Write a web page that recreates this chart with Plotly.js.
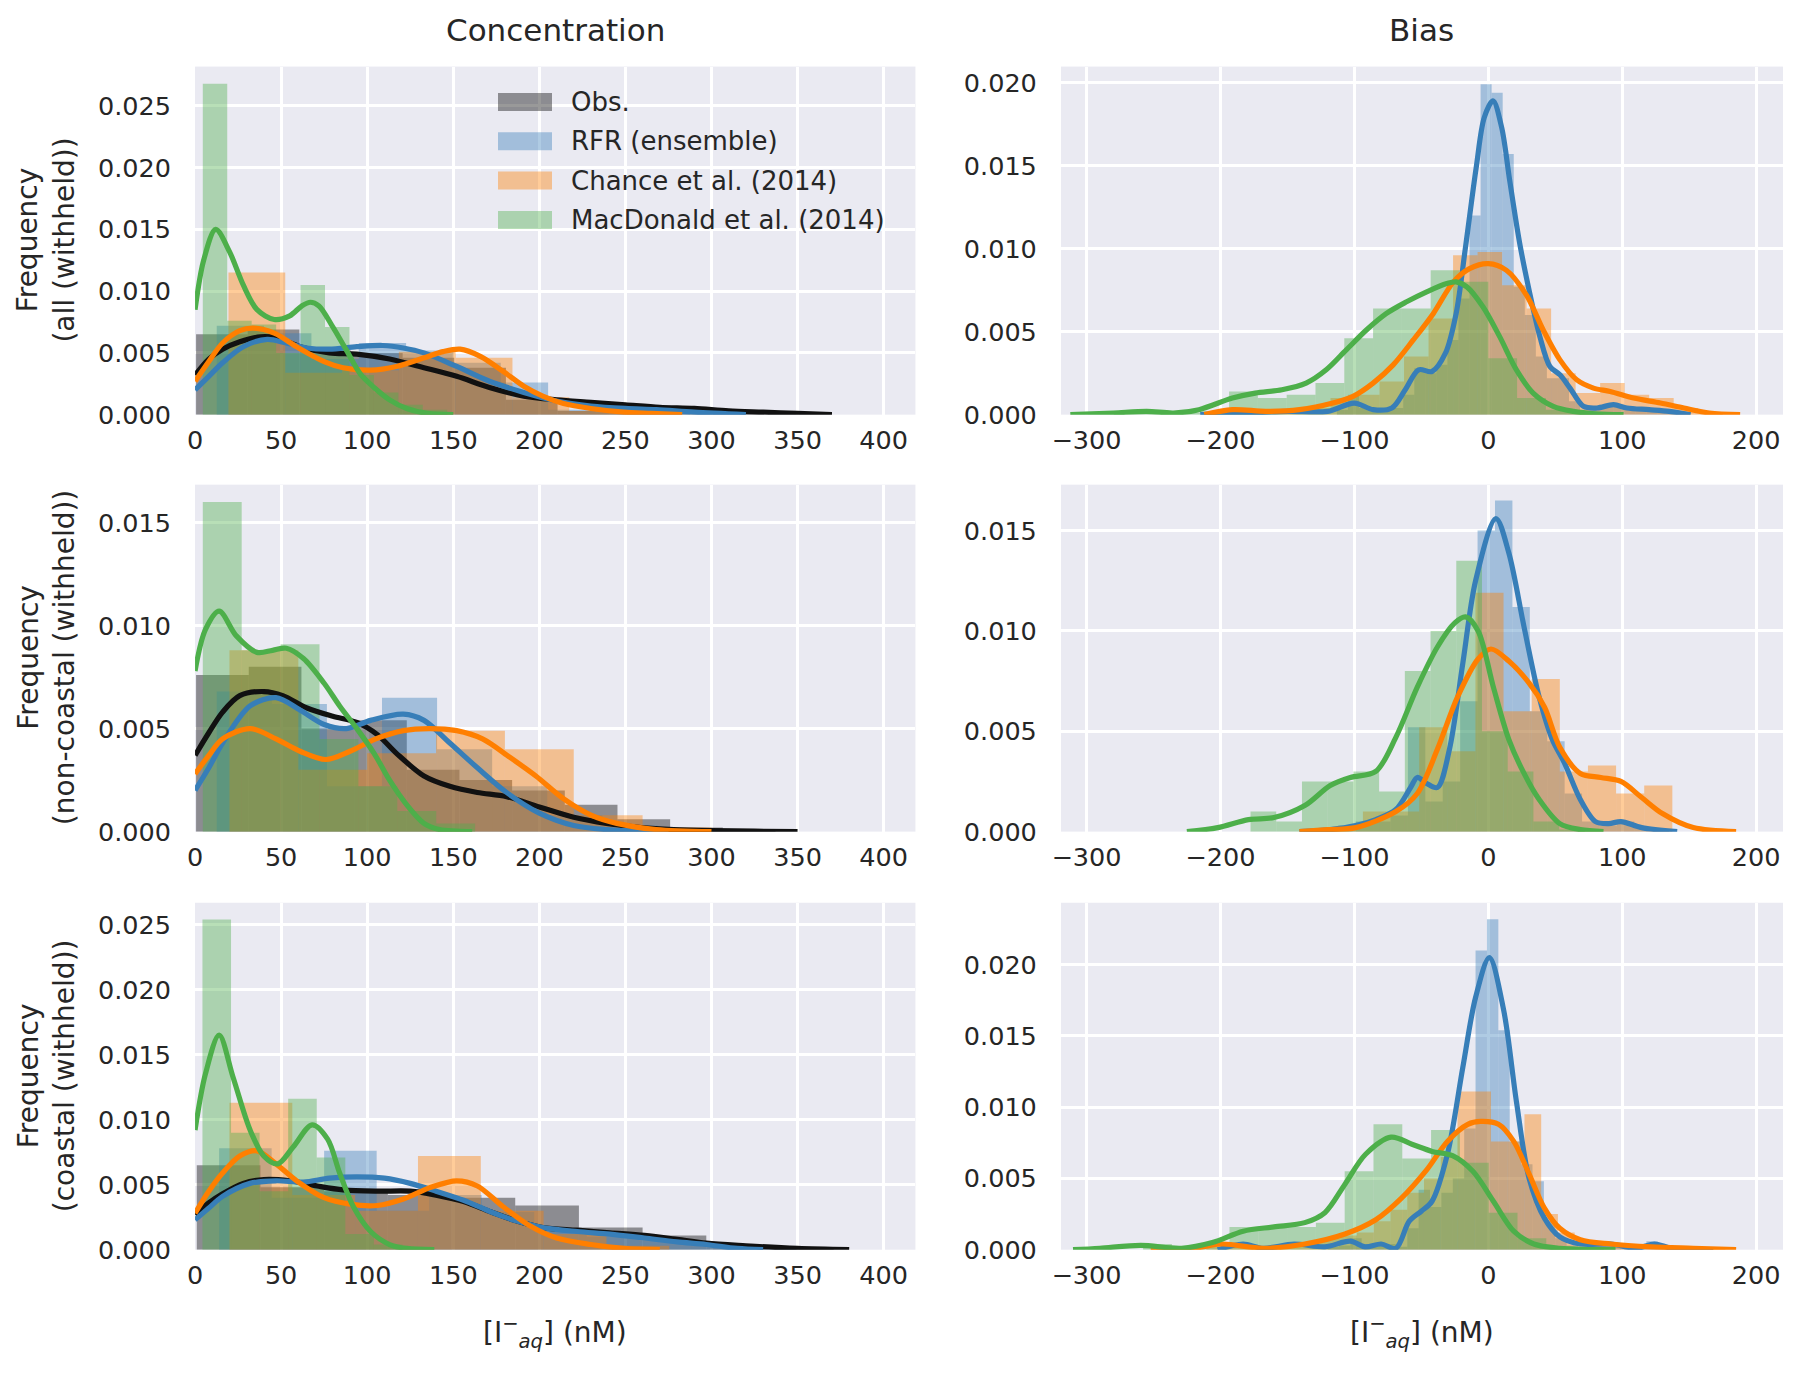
<!DOCTYPE html>
<html>
<head>
<meta charset="utf-8">
<script src="https://cdn.plot.ly/plotly-3.0.1.min.js"></script>
<style>html,body{margin:0;padding:0;background:#fff;}#chart{width:1801px;height:1373px;}</style>
</head>
<body>
<div id="chart"></div>
<script>
// ---------------- DATA ----------------
const seriesNames = ["Obs.", "RFR (ensemble)", "Chance et al. (2014)", "MacDonald et al. (2014)"];
const columnTitles = ["Concentration", "Bias"];
const rowLabels = ["Frequency<br>(all (withheld))", "Frequency<br>(non-coastal (withheld))", "Frequency<br>(coastal (withheld))"];
const xAxisLabel = "[I<sup>−</sup><sub><i>aq</i></sub>] (nM)";
const concTicks = [0, 50, 100, 150, 200, 250, 300, 350, 400];
const biasTicks = [-300, -200, -100, 0, 100, 200];

// ---- Concentration, all (withheld): histogram bins (start, width, densities) ----
const concAllObsBins = {start: 0.6, width: 30, h: [0.0065,0.0069,0.0052,0.0050,0.0046,0.0038,0.0012,0.0003,0.0002,0.0001,0.0001]};
const concAllRfrBins = {start: 12.6, width: 27.5, h: [0.0072,0.0066,0.0045,0.0058,0.0052,0.0042,0.0026,0.0004,0.0002,0.0001]};
const concAllChanceBins = {start: 19.4, width: 33, h: [0.0115,0.0034,0.0036,0.0051,0.0046,0.0014,0.0003]};
const concAllMacBins = {start: 4.5, width: 14.2, h: [0.0268,0.0076,0.0073,0.0050,0.0105,0.0071,0.0032,0.0018,0.0008,0.0004]};
// KDE curves
const concAllObsKdeX = [0,8,16,26,38,48,61,78,94,113,133,152,171,191,210,230,250,270,290,310,330,350,370];
const concAllObsKdeY = [0.0032,0.0045,0.0053,0.0059,0.0063,0.0062,0.0055,0.0050,0.0049,0.0045,0.0038,0.0031,0.0022,0.0015,0.0012,0.0010,0.0008,0.0006,0.0005,0.0003,0.0002,0.0001,0.0];
const concAllRfrKdeX = [0,8,16,28,42,53,65,78,94,109,121,133,152,171,191,210,230,250,268,290,320];
const concAllRfrKdeY = [0.0020,0.0031,0.0042,0.0055,0.0061,0.0058,0.0054,0.0053,0.0055,0.0056,0.0054,0.0050,0.0039,0.0027,0.0018,0.0011,0.0007,0.0005,0.0004,0.0002,0.0];
const concAllChanceKdeX = [0,8,16,26,34,46,59,75,86,102,117,133,144,154,166,179,191,202,214,230,249,265,283];
const concAllChanceKdeY = [0.0027,0.0043,0.0058,0.0068,0.0070,0.0066,0.0055,0.0043,0.0038,0.0036,0.0039,0.0046,0.0051,0.0053,0.0047,0.0035,0.0023,0.0015,0.0009,0.0005,0.0002,0.0001,0.0];
const concAllMacKdeX = [0,5,12,20,28,36,46,55,62,67,72,80,88,96,104,113,123,135,150];
const concAllMacKdeY = [0.0085,0.0125,0.0150,0.0132,0.0105,0.0085,0.0077,0.0080,0.0088,0.0091,0.0088,0.0071,0.0052,0.0033,0.0022,0.0012,0.0005,0.0001,0.0];

// ---- Concentration, non-coastal ----
const concNonObsBins = {start: 0.6, width: 30.6, h: [0.0076,0.0080,0.0050,0.0054,0.0030,0.0025,0.0020,0.0013,0.0006,0.0002,0.0001]};
const concNonRfrBins = {start: 12.6, width: 32, h: [0.0068,0.0062,0.0022,0.0065,0.0040,0.0022,0.0008,0.0003]};
const concNonChanceBins = {start: 20, width: 40, h: [0.0088,0.0030,0.0038,0.0049,0.0040,0.0008,0.0002]};
const concNonMacBins = {start: 4.5, width: 22.6, h: [0.0160,0.0088,0.0091,0.0045,0.0022,0.0010,0.0004]};
const concNonObsKdeX = [0,8,16,26,40,51,65,80,94,106,117,133,148,164,181,200,220,239,259,278,300,325,350];
const concNonObsKdeY = [0.0037,0.0048,0.0058,0.0066,0.0068,0.0066,0.0060,0.0056,0.0053,0.0047,0.0038,0.0027,0.0022,0.0019,0.0017,0.0012,0.0007,0.0004,0.0002,0.0001,0.00005,0.00002,0];
const concNonRfrKdeX = [0,8,16,32,47,61,75,88,102,121,133,148,164,181,200,220,239,258,275];
const concNonRfrKdeY = [0.0020,0.0031,0.0043,0.0061,0.0065,0.0059,0.0052,0.0050,0.0054,0.0057,0.0054,0.0043,0.0031,0.0019,0.0009,0.0003,0.0001,0.00003,0];
const concNonChanceKdeX = [0,8,16,32,47,61,76,90,105,121,136,152,167,183,198,214,230,245,268,300];
const concNonChanceKdeY = [0.0028,0.0037,0.0045,0.0050,0.0045,0.0039,0.0035,0.0039,0.0045,0.0049,0.0050,0.0049,0.0045,0.0036,0.0027,0.0016,0.0008,0.0004,0.0001,0];
const concNonMacKdeX = [0,6,14,24,36,45,53,63,75,84,94,104,113,123,133,142,161];
const concNonMacKdeY = [0.0078,0.0098,0.0107,0.0095,0.0087,0.0088,0.0089,0.0084,0.0072,0.0061,0.0050,0.0038,0.0025,0.0013,0.0004,0.0001,0];

// ---- Concentration, coastal ----
const concCoastObsBins = {start: 1, width: 37, h: [0.0065,0.0048,0.0045,0.0042,0.0040,0.0034,0.0017,0.0011,0.0003,0.0001]};
const concCoastRfrBins = {start: 14, width: 30.5, h: [0.0078,0.0040,0.0076,0.0030,0.0042,0.0029,0.0015,0.0010,0.0007,0.0004,0.0002]};
const concCoastChanceBins = {start: 20, width: 36.5, h: [0.0113,0.0042,0.0030,0.0072,0.0030,0.0012,0.0003]};
const concCoastMacBins = {start: 4.3, width: 16.6, h: [0.0254,0.0090,0.0045,0.0116,0.0071,0.0012,0.0004]};
const concCoastObsKdeX = [0,8,16,28,40,55,71,86,106,125,140,156,172,187,202,222,241,261,280,297,320,350,380];
const concCoastObsKdeY = [0.0027,0.0036,0.0043,0.0051,0.0054,0.0053,0.0049,0.0046,0.0045,0.0045,0.0042,0.0037,0.0029,0.0022,0.0017,0.0015,0.0013,0.0011,0.0008,0.0005,0.0003,0.0001,0];
const concCoastRfrKdeX = [0,8,16,32,47,63,78,94,110,125,140,156,172,187,202,222,241,261,280,297,315,330];
const concCoastRfrKdeY = [0.0023,0.0032,0.0041,0.0051,0.0053,0.0052,0.0055,0.0056,0.0055,0.0051,0.0045,0.0038,0.0029,0.0022,0.0017,0.0014,0.0012,0.0009,0.0006,0.0004,0.0001,0];
const concCoastChanceKdeX = [0,8,16,26,36,47,59,75,90,106,121,137,152,164,179,195,210,230,249,270];
const concCoastChanceKdeY = [0.0028,0.0045,0.0059,0.0072,0.0076,0.0066,0.0053,0.0040,0.0035,0.0034,0.0039,0.0048,0.0053,0.0049,0.0033,0.0018,0.0009,0.0004,0.0001,0];
const concCoastMacKdeX = [0,6,14,22,32,40,48,57,68,77,84,92,102,113,123,139];
const concCoastMacKdeY = [0.0092,0.0135,0.0165,0.0133,0.0092,0.0072,0.0066,0.0079,0.0096,0.0085,0.0059,0.0033,0.0014,0.0004,0.0001,0];

// ---- Bias, all (withheld) ----
const biasAllRfrBins = {start: -113, width: 8.25, h: [0.0003,0.0012,0.0004,0.0002,0.0003,0.0004,0.0012,0.0028,0.0025,0.0030,0.0045,0.0070,0.0120,0.0199,0.0194,0.0157,0.0077,0.0060,0.0035,0.0022,0.0022,0.0008,0.0003,0.0003,0.0005,0.0006,0.0003,0.0003,0.0003,0.0003,0.0002,0.0001]};
const biasAllChanceBins = {start: -209.3, width: 18.3, h: [0.0002,0.0003,0.0002,0.0002,0.0004,0.0010,0.0012,0.0020,0.0035,0.0058,0.0096,0.0098,0.0078,0.0064,0.0025,0.0013,0.0019,0.0012,0.0010,0.0004,0.0001]};
const biasAllMacBins = {start: -279.5, width: 21.5, h: [0.0001,0.0002,0.0001,0.0002,0.0014,0.0010,0.0012,0.0019,0.0046,0.0064,0.0064,0.0087,0.0080,0.0034,0.0010,0.0003,0.0001]};
const biasAllRfrKdeX = [-215,-180,-150,-120,-100,-86,-72,-62,-52,-42,-32,-24,-17,-9,-3,3.5,10,16,23.5,31,38.5,46,53.5,61,71,81,93.5,103.5,120,135,151];
const biasAllRfrKdeY = [0,0.0001,0.0002,0.0002,0.0007,0.0003,0.0004,0.0015,0.0027,0.0026,0.0037,0.0061,0.0101,0.0149,0.0179,0.0189,0.0173,0.0141,0.0103,0.0073,0.0047,0.0029,0.0024,0.0016,0.0005,0.0004,0.0006,0.0004,0.0003,0.0002,0];
const biasAllChanceKdeX = [-212,-191,-166,-141,-116,-101,-86,-71,-56,-41,-26,-14,0,13.5,28.5,41,53.5,66,78.5,91,108.5,128.5,146,165,188];
const biasAllChanceKdeY = [0,0.0003,0.0002,0.0003,0.0007,0.0011,0.0019,0.0030,0.0045,0.0061,0.0080,0.0088,0.0091,0.0087,0.0072,0.0051,0.0033,0.0021,0.0016,0.0014,0.0010,0.0007,0.0004,0.0001,0];
const biasAllMacKdeX = [-312,-280,-255,-235,-216,-191,-174,-154,-136,-121,-106,-91,-76,-61,-46,-31,-24,-16,-4,8.5,21,33.5,48.5,63.5,80,101];
const biasAllMacKdeY = [0,0.0001,0.0002,0.0001,0.0003,0.0010,0.0013,0.0015,0.0019,0.0027,0.0039,0.0051,0.0061,0.0068,0.0074,0.0079,0.0080,0.0077,0.0065,0.0047,0.0027,0.0013,0.0005,0.0002,0.00005,0];

// ---- Bias, non-coastal ----
const biasNonRfrBins = {start: -138, width: 13, h: [0.0001,0.0001,0.0003,0.0005,0.0005,0.0008,0.0052,0.0015,0.0025,0.0065,0.0150,0.0165,0.0112,0.0060,0.0045,0.0019,0.0005,0.0003,0.0005,0.0002,0.0001]};
const biasNonChanceBins = {start: -135.6, width: 21, h: [0.0001,0.0002,0.0010,0.0010,0.0052,0.0040,0.0119,0.0060,0.0076,0.0030,0.0033,0.0019,0.0023]};
const biasNonMacBins = {start: -177.5, width: 19.2, h: [0.0010,0.0005,0.0025,0.0025,0.0030,0.0020,0.0080,0.0100,0.0135,0.0050,0.0030,0.0005,0.0001]};
const biasNonRfrKdeX = [-141,-118,-99,-84,-69,-58,-53,-46,-38,-29,-19,-9.5,5.7,15.3,26.7,38,47.7,57,68.7,80,90,99,114.5,141];
const biasNonRfrKdeY = [0,0.0001,0.0003,0.0006,0.0011,0.0022,0.0027,0.0024,0.0022,0.0041,0.0084,0.0125,0.0156,0.0139,0.0102,0.0067,0.0046,0.0034,0.0016,0.0005,0.0004,0.0005,0.0002,0];
const biasNonChanceKdeX = [-141,-120,-99,-69,-53,-38,-23,-7.6,2,15.3,30.5,42,53.4,68.7,84,99,114.5,130,153,185];
const biasNonChanceKdeY = [0,0.0001,0.0002,0.0010,0.0019,0.0041,0.0067,0.0086,0.0091,0.0085,0.0074,0.0062,0.0042,0.0029,0.0027,0.0025,0.0017,0.0009,0.0002,0];
const biasNonMacKdeX = [-225,-202,-179,-160,-137,-118,-103,-84,-69,-53,-38,-25,-17,-7.6,3.8,15.3,26.7,38,53.4,68.7,86];
const biasNonMacKdeY = [0,0.0002,0.0006,0.0007,0.0013,0.0023,0.0027,0.0030,0.0047,0.0072,0.0092,0.0104,0.0107,0.0100,0.0072,0.0046,0.0029,0.0016,0.0004,0.0001,0];

// ---- Bias, coastal ----
const biasCoastRfrBins = {start: -120, width: 8.5, h: [0.0002,0.0003,0.0008,0.0004,0.0003,0.0004,0.0002,0.0015,0.0042,0.0030,0.0040,0.0050,0.0085,0.0210,0.0232,0.0154,0.0076,0.0060,0.0048,0.0020,0.0008,0.0003,0.0002,0.0003,0.0003,0.0003,0.0001,0.0001,0.0006,0.0002]};
const biasCoastChanceBins = {start: -210.5, width: 12.5, h: [0.0002,0.0003,0.0002,0.0001,0.0002,0.0003,0.0005,0.0008,0.0010,0.0012,0.0020,0.0028,0.0040,0.0050,0.0065,0.0111,0.0111,0.0076,0.0076,0.0095,0.0025,0.0012,0.0006,0.0004,0.0003,0.0002,0.0002,0.0002,0.0001,0.0001,0.0001]};
const biasCoastMacBins = {start: -257.7, width: 21.5, h: [0.0004,0.0001,0.0002,0.0016,0.0016,0.0016,0.0019,0.0055,0.0088,0.0064,0.0084,0.0061,0.0026,0.0008,0.0002,0.0001]};
const biasCoastRfrKdeX = [-202,-183,-168,-145,-122,-103,-92,-80,-69,-59,-50,-42,-30.5,-19,-9.5,0.8,11.5,21,30.5,42,53.4,68.7,91.6,110.7,124,137,168];
const biasCoastRfrKdeY = [0,0.0004,0.0001,0.0004,0.0002,0.0006,0.0002,0.0004,0.0001,0.0020,0.0027,0.0034,0.0067,0.0128,0.0177,0.0205,0.0168,0.0104,0.0050,0.0022,0.0009,0.0004,0.0004,0.0001,0.0004,0.0001,0];
const biasCoastChanceKdeX = [-252,-220,-198.5,-168,-137,-107,-84,-65,-46,-30.5,-15.3,-5.7,7.6,19,30.5,42,53.4,68.7,91.6,122,153,185];
const biasCoastChanceKdeY = [0,0.0001,0.0004,0.0001,0.0004,0.0011,0.0021,0.0036,0.0056,0.0076,0.0088,0.0090,0.0088,0.0076,0.0053,0.0029,0.0015,0.0007,0.0004,0.0002,0.0001,0];
const biasCoastMacKdeX = [-310,-290,-259.5,-229,-206,-183,-160,-137,-122,-107,-91.6,-72.5,-57,-42,-26.7,-11.5,3.8,19,34,53.4,95];
const biasCoastMacKdeY = [0,0.0001,0.0003,0.0001,0.0005,0.0013,0.0016,0.0019,0.0026,0.0046,0.0067,0.0079,0.0074,0.0069,0.0066,0.0055,0.0034,0.0013,0.0004,0.0001,0];

// ---------------- STYLE ----------------
const FONT = "DejaVu Sans, Liberation Sans, sans-serif";
const TXT = "#262626";
const lineColors = ["#111111", "#377eb8", "#ff7f00", "#4daf4a"];
const barColors = ["rgba(0,0,0,0.4)", "rgba(55,126,184,0.4)", "rgba(255,127,0,0.4)", "rgba(77,175,74,0.4)"];

function hist(b, si, ax) {
  return {
    type: "bar", x: b.h.map((_, i) => b.start + b.width * (i + 0.5)), y: b.h, width: b.width,
    marker: {color: barColors[si], line: {width: 0}}, xaxis: ax[0], yaxis: ax[1],
    name: seriesNames[si], showlegend: false, hoverinfo: "skip"
  };
}
function kde(x, y, si, ax) {
  return {
    type: "scatter", mode: "lines", x: x, y: y, xaxis: ax[0], yaxis: ax[1],
    line: {color: lineColors[si], width: 5.2, shape: "spline", smoothing: 0.9},
    name: seriesNames[si], showlegend: false, hoverinfo: "skip", cliponaxis: true
  };
}

const panels = [
  {ax: ["x", "y"], bins: [concAllObsBins, concAllRfrBins, concAllChanceBins, concAllMacBins],
   kdes: [[concAllObsKdeX, concAllObsKdeY], [concAllRfrKdeX, concAllRfrKdeY], [concAllChanceKdeX, concAllChanceKdeY], [concAllMacKdeX, concAllMacKdeY]]},
  {ax: ["x2", "y2"], bins: [null, biasAllRfrBins, biasAllChanceBins, biasAllMacBins],
   kdes: [null, [biasAllRfrKdeX, biasAllRfrKdeY], [biasAllChanceKdeX, biasAllChanceKdeY], [biasAllMacKdeX, biasAllMacKdeY]]},
  {ax: ["x3", "y3"], bins: [concNonObsBins, concNonRfrBins, concNonChanceBins, concNonMacBins],
   kdes: [[concNonObsKdeX, concNonObsKdeY], [concNonRfrKdeX, concNonRfrKdeY], [concNonChanceKdeX, concNonChanceKdeY], [concNonMacKdeX, concNonMacKdeY]]},
  {ax: ["x4", "y4"], bins: [null, biasNonRfrBins, biasNonChanceBins, biasNonMacBins],
   kdes: [null, [biasNonRfrKdeX, biasNonRfrKdeY], [biasNonChanceKdeX, biasNonChanceKdeY], [biasNonMacKdeX, biasNonMacKdeY]]},
  {ax: ["x5", "y5"], bins: [concCoastObsBins, concCoastRfrBins, concCoastChanceBins, concCoastMacBins],
   kdes: [[concCoastObsKdeX, concCoastObsKdeY], [concCoastRfrKdeX, concCoastRfrKdeY], [concCoastChanceKdeX, concCoastChanceKdeY], [concCoastMacKdeX, concCoastMacKdeY]]},
  {ax: ["x6", "y6"], bins: [null, biasCoastRfrBins, biasCoastChanceBins, biasCoastMacBins],
   kdes: [null, [biasCoastRfrKdeX, biasCoastRfrKdeY], [biasCoastChanceKdeX, biasCoastChanceKdeY], [biasCoastMacKdeX, biasCoastMacKdeY]]}
];

const traces = [];
panels.forEach(p => {
  for (let si = 0; si < 4; si++) {
    if (p.bins[si]) traces.push(hist(p.bins[si], si, p.ax));
    if (p.kdes[si]) traces.push(kde(p.kdes[si][0], p.kdes[si][1], si, p.ax));
  }
});

// ---------------- LAYOUT ----------------
const W = 1801, H = 1373;
const colDom = [[0.1083, 0.5083], [0.5891, 0.9900]];
const rowDom = [[0.6980, 0.9515], [0.3943, 0.6470], [0.0898, 0.3425]];
const yMax = [[0.02818, 0.02097], [0.01684, 0.01729], [0.02668, 0.02435]];

function xAxis(col, row, anchor) {
  const conc = col === 0;
  return {
    domain: colDom[col], anchor: anchor, range: conc ? [0, 418.5] : [-319, 220],
    tickvals: conc ? concTicks : biasTicks, ticks: "outside", ticklen: 3, tickcolor: "rgba(0,0,0,0)",
    showgrid: true, gridcolor: "#ffffff", gridwidth: 3, zeroline: false, showline: false,
    tickfont: {family: FONT, size: 25.5, color: TXT}
  };
}
function yAxis(col, row, anchor) {
  return {
    domain: rowDom[row], anchor: anchor, range: [0, yMax[row][col]], dtick: 0.005, tick0: 0,
    tickformat: ".3f", ticks: "outside", ticklen: 18, tickcolor: "rgba(0,0,0,0)",
    showgrid: true, gridcolor: "#ffffff", gridwidth: 3, zeroline: false, showline: false,
    tickfont: {family: FONT, size: 25.5, color: TXT}
  };
}

const layout = {
  width: W, height: H, autosize: false,
  margin: {l: 0, r: 0, t: 0, b: 0},
  paper_bgcolor: "#ffffff", plot_bgcolor: "#eaeaf2",
  barmode: "overlay", showlegend: false,
  font: {family: FONT, color: TXT},
  xaxis: xAxis(0, 0, "y"), yaxis: yAxis(0, 0, "x"),
  xaxis2: xAxis(1, 0, "y2"), yaxis2: yAxis(1, 0, "x2"),
  xaxis3: xAxis(0, 1, "y3"), yaxis3: yAxis(0, 1, "x3"),
  xaxis4: xAxis(1, 1, "y4"), yaxis4: yAxis(1, 1, "x4"),
  xaxis5: xAxis(0, 2, "y5"), yaxis5: yAxis(0, 2, "x5"),
  xaxis6: xAxis(1, 2, "y6"), yaxis6: yAxis(1, 2, "x6"),
  shapes: [], annotations: []
};

// column titles
columnTitles.forEach((t, c) => {
  layout.annotations.push({text: t, xref: "paper", yref: "paper", x: (colDom[c][0] + colDom[c][1]) / 2,
    y: 1 - 30 / H, xanchor: "center", yanchor: "middle", showarrow: false, font: {family: FONT, size: 31, color: TXT}});
});
// row labels
rowLabels.forEach((t, r) => {
  layout.annotations.push({text: t, xref: "paper", yref: "paper", x: 46 / W, y: (rowDom[r][0] + rowDom[r][1]) / 2,
    xanchor: "center", yanchor: "middle", textangle: -90, showarrow: false, font: {family: FONT, size: 28, color: TXT}});
});
// x axis labels
[0, 1].forEach(c => {
  layout.annotations.push({text: xAxisLabel, xref: "paper", yref: "paper", x: (colDom[c][0] + colDom[c][1]) / 2,
    y: 1 - 1332 / H, xanchor: "center", yanchor: "middle", showarrow: false, font: {family: FONT, size: 28, color: TXT}});
});
// legend (top-left panel)
const legX0 = 498, legX1 = 552, legTop = 93, legH = 18, legStep = 39.3, legTextX = 569;
seriesNames.forEach((n, i) => {
  const top = legTop + i * legStep;
  layout.shapes.push({type: "rect", xref: "paper", yref: "paper", x0: legX0 / W, x1: legX1 / W,
    y0: 1 - (top + legH) / H, y1: 1 - top / H, fillcolor: barColors[i], line: {width: 0}});
  layout.annotations.push({text: n, xref: "paper", yref: "paper", x: legTextX / W, y: 1 - (top + legH / 2) / H,
    xanchor: "left", yanchor: "middle", showarrow: false, font: {family: FONT, size: 26, color: TXT}});
});

Plotly.newPlot("chart", traces, layout, {staticPlot: true, displayModeBar: false});
</script>
</body>
</html>
